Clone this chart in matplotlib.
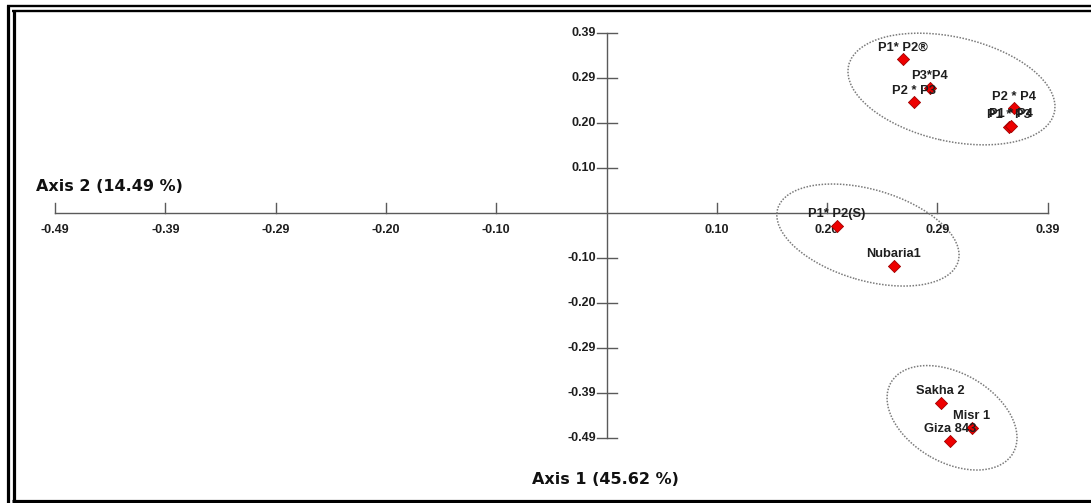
import numpy as np
import matplotlib
matplotlib.use("Agg")
import matplotlib.pyplot as plt
from matplotlib.patches import Ellipse
from matplotlib.lines import Line2D
from matplotlib.transforms import ScaledTranslation

# PCA scores (axis 1, axis 2)
labels = ["P1* P2\u00ae", "P3*P4", "P2 * P3", "P2 * P4", "P1 * P3", "P1 * P4",
          "P1* P2(S)", "Nubaria1", "Sakha 2", "Misr 1", "Giza 843"]
pc1 = [0.263, 0.287, 0.273, 0.362, 0.358, 0.359, 0.2045, 0.255, 0.297, 0.3245, 0.3055]
pc2 = [0.335, 0.272, 0.241, 0.228, 0.188, 0.1895, -0.028, -0.115, -0.413, -0.468, -0.497]

tick_step = 0.098
tick_idx = [-5, -4, -3, -2, -1, 1, 2, 3, 4]

# group ellipses: centre (data), width/height (px), angle (deg)
groups = [
    ((0.3065, 0.270), 211, 104, -12.8),
    ((0.2323, -0.048), 188, 91, -16.3),
    ((0.3070, -0.446), 141, 89, -30.0),
]

W, H, DPI = 1091, 503, 100
fig = plt.figure(figsize=(W / DPI, H / DPI), dpi=DPI)
ax = fig.add_axes([0, 0, 1, 1])
kx = tick_step / 110.3
ky = tick_step / 45.0
x0_px, y0_px = 606.5, 213.0
ax.set_xlim(-x0_px * kx, (W - x0_px) * kx)
ax.set_ylim(-(H - y0_px) * ky, y0_px * ky)
ax.axis("off")

axis_col = "#5a5a5a"
txt_col = "#1e1e1e"
tick_font = dict(family="Liberation Sans", weight="bold", size=9, color=txt_col)

# axes through the origin
xt = [i * tick_step for i in tick_idx]
ax.plot([xt[0], xt[-1]], [0, 0], color=axis_col, lw=1.0, zorder=1)
ax.plot([0, 0], [xt[0], xt[-1]], color=axis_col, lw=1.0, zorder=1)

for v in xt:
    # x ticks go up from the axis
    ax.plot([v, v], [0, 10 * ky], color=axis_col, lw=1.0, zorder=1)
    ax.annotate(f"{v:.2f}", (v, 0), xytext=(0, -12), textcoords="offset points",
                ha="center", va="center", **tick_font)
    # y ticks cross the axis
    ax.plot([-10 * kx, 10 * kx], [v, v], color=axis_col, lw=1.0, zorder=1)
    ax.annotate(f"{v:.2f}", (-10 * kx, v), xytext=(-0.5, 0), textcoords="offset points",
                ha="right", va="center", **tick_font)

# group ellipses (sized in pixels so the tilt survives the unequal scales)
for (cx, cy), w, h, ang in groups:
    e = Ellipse((0, 0), w, h, angle=ang, fill=False, edgecolor="#7a7a7a",
                lw=1.1, linestyle=(0, (1, 1)),
                transform=ScaledTranslation(cx, cy, ax.transData))
    ax.add_patch(e)

ax.scatter(pc1, pc2, marker="D", s=38, color="#ee0000", edgecolor="#a00000",
           linewidths=0.6, zorder=3)
for name, x, y in zip(labels, pc1, pc2):
    ax.annotate(name, (x, y), xytext=(0, 8.5), textcoords="offset points",
                ha="center", va="center", family="Liberation Sans",
                weight="bold", size=9.3, color=txt_col, zorder=4)

ax.text(36 / W, 1 - 186 / H, "Axis 2 (14.49 %)", transform=fig.transFigure,
        ha="left", va="center", family="DejaVu Sans", weight="bold",
        size=11.5, color="#111111")
ax.text(532 / W, 1 - 479 / H, "Axis 1 (45.62 %)", transform=fig.transFigure,
        ha="left", va="center", family="DejaVu Sans", weight="bold",
        size=11.5, color="#111111")

# double frame around the picture
def px_line(xs, ys, lw):
    fig.add_artist(Line2D([x / W for x in xs], [1 - y / H for y in ys],
                          color="black", lw=lw, solid_capstyle="butt",
                          transform=fig.transFigure))

px_line([6.7, W], [6.2, 6.2], 1.7)
px_line([12, W], [11.2, 11.2], 1.7)
px_line([8.3, 8.3], [5, H], 2.3)
px_line([13.7, 13.7], [10, 501], 2.3)
px_line([12, W], [501.3, 501.3], 2.3)

fig.savefig("out.png", dpi=DPI, facecolor="white")
